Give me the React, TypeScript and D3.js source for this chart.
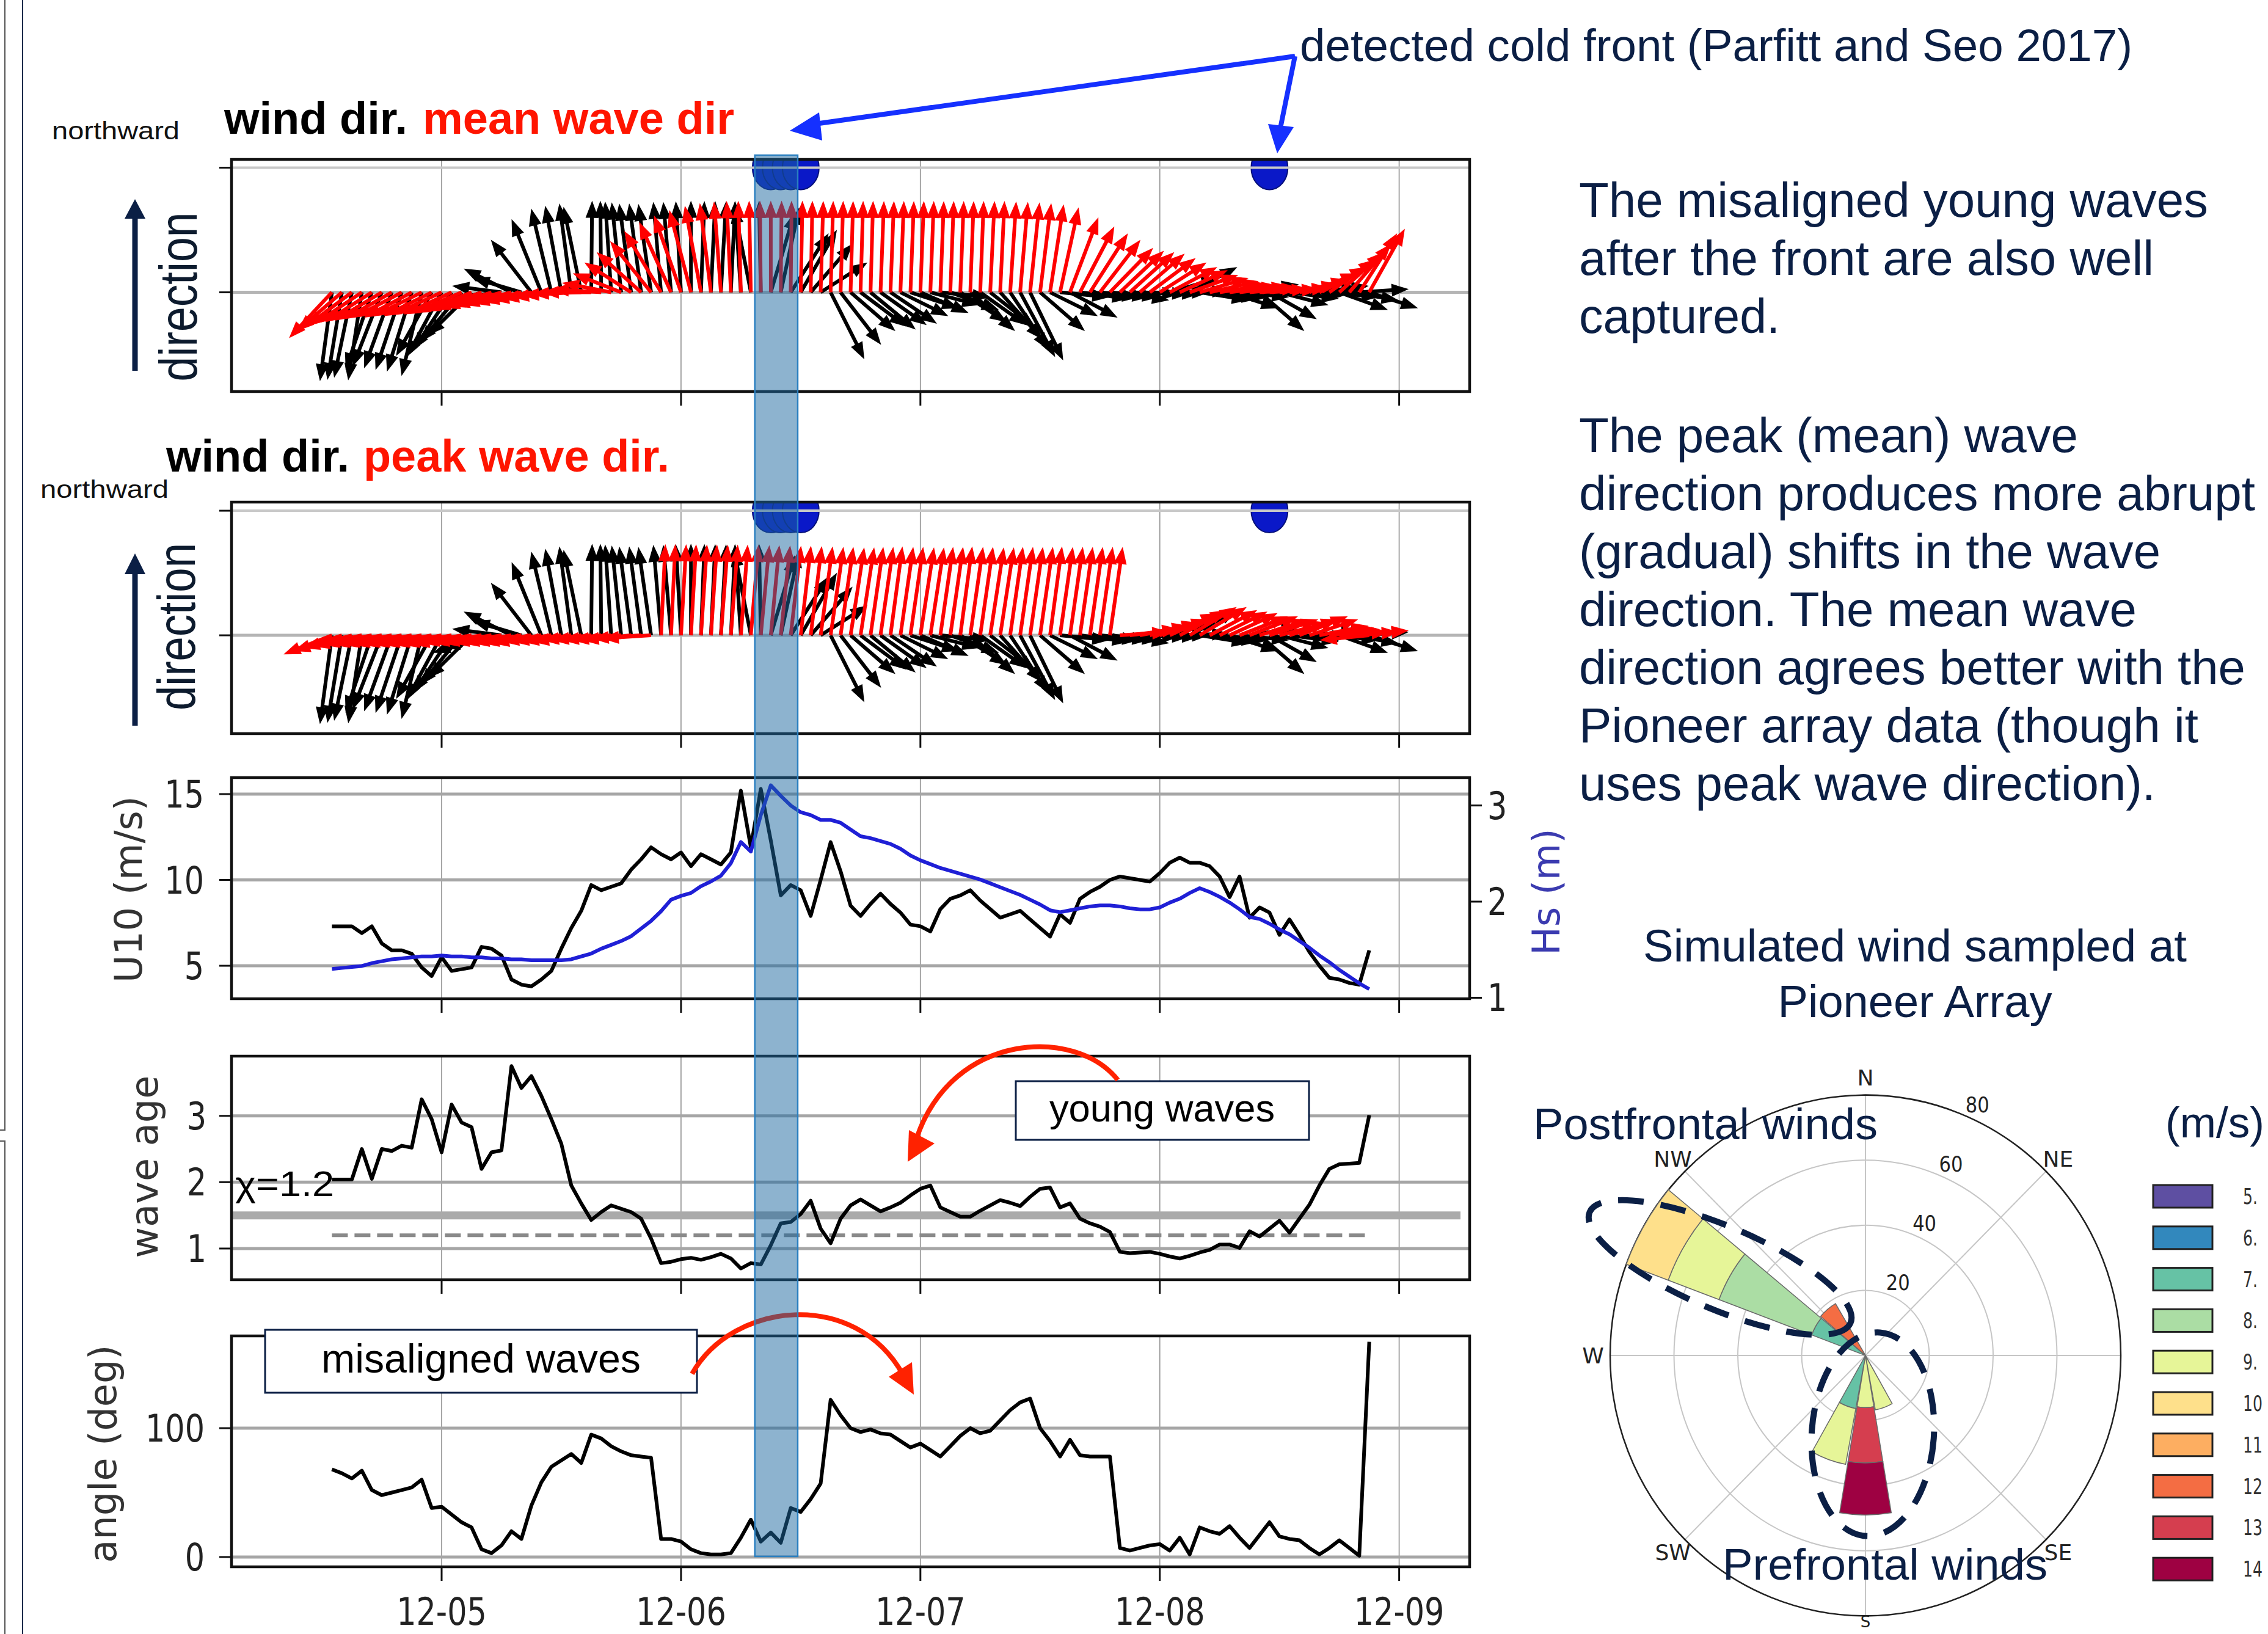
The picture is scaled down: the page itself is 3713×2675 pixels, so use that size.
import React from "react";
import * as d3 from "d3";

const W = 3713;
const H = 2675;

// Hourly samples starting 2017-12-04 13:00 UTC
const startTime = Date.UTC(2017, 11, 4, 13);

const windSpeed = [
  7.3, 7.3, 7.3, 6.9, 7.3, 6.3, 5.9, 5.9, 5.7, 4.9, 4.4,
  5.5, 4.7, 4.8, 4.9, 6.1, 6.0, 5.6, 4.2, 3.9, 3.8,
  4.2, 4.7, 6.0, 7.2, 8.2, 9.7, 9.4, 9.6, 9.8, 10.6,
  11.2, 11.9, 11.5, 11.2, 11.6, 10.8, 11.5, 11.2, 10.9, 11.6,
  15.2, 11.9, 15.3, 12.3, 9.1, 9.7, 9.4, 7.9, 10.0, 12.2,
  10.5, 8.5, 7.9, 8.6, 9.2, 8.6, 8.1, 7.4, 7.3, 7.0,
  8.3, 8.9, 9.1, 9.4, 8.8, 8.3, 7.8, 8.0, 8.2, 7.7,
  7.2, 6.7, 8.0, 7.5, 8.9, 9.3, 9.6, 10.0, 10.2, 10.1,
  10.0, 9.9, 10.4, 11.0, 11.3, 11.0, 11.0, 10.8, 10.2, 9.0,
  10.2, 7.8, 8.4, 8.1, 6.8, 7.7, 6.8, 5.8, 5.0, 4.3,
  4.2, 4.0, 3.9, 5.9,
];

const waveHeight = [
  1.30, 1.31, 1.32, 1.33, 1.36, 1.38, 1.40, 1.41, 1.42, 1.43, 1.43,
  1.44, 1.43, 1.43, 1.42, 1.42, 1.41, 1.41, 1.40, 1.40, 1.39,
  1.39, 1.39, 1.39, 1.40, 1.43, 1.46, 1.51, 1.55, 1.59, 1.64,
  1.72, 1.80, 1.90, 2.02, 2.06, 2.09, 2.16, 2.21, 2.27, 2.40,
  2.62, 2.52, 2.90, 3.21, 3.10, 3.00, 2.93, 2.90, 2.85, 2.85,
  2.82, 2.75, 2.68, 2.66, 2.63, 2.60, 2.55, 2.48, 2.43, 2.39,
  2.35, 2.32, 2.29, 2.26, 2.23, 2.19, 2.15, 2.11, 2.07, 2.02,
  1.97, 1.91, 1.89, 1.91, 1.93, 1.95, 1.96, 1.96, 1.95, 1.93,
  1.92, 1.92, 1.94, 1.99, 2.03, 2.09, 2.14, 2.10, 2.05, 1.99,
  1.92, 1.84, 1.82, 1.77, 1.71, 1.66, 1.59, 1.52, 1.44, 1.37,
  1.29, 1.22, 1.15, 1.09,
];

const waveAge = [
  2.04, 2.04, 2.04, 2.50, 2.05, 2.50, 2.47, 2.55, 2.52, 3.25, 2.95,
  2.45, 3.17, 2.90, 2.83, 2.20, 2.45, 2.48, 3.75, 3.42, 3.60,
  3.30, 2.95, 2.58, 1.95, 1.68, 1.43, 1.55, 1.65, 1.60, 1.55,
  1.45, 1.15, 0.78, 0.80, 0.84, 0.86, 0.83, 0.87, 0.92, 0.85,
  0.70, 0.78, 0.76, 1.05, 1.38, 1.40, 1.52, 1.72, 1.30, 1.08,
  1.45, 1.65, 1.74, 1.65, 1.56, 1.62, 1.69, 1.80, 1.90, 1.95,
  1.62, 1.55, 1.48, 1.48, 1.57, 1.65, 1.73, 1.69, 1.64, 1.78,
  1.90, 1.92, 1.62, 1.68, 1.45, 1.38, 1.33, 1.25, 0.95, 0.93,
  0.94, 0.95, 0.92, 0.88, 0.85, 0.89, 0.94, 0.98, 1.06, 1.06,
  1.01, 1.26, 1.18, 1.30, 1.42, 1.24, 1.45, 1.66, 1.95, 2.20,
  2.27, 2.28, 2.29, 3.01,
];

const misalignAngle = [
  68, 65, 61, 67, 52, 48, 50, 52, 54, 60, 38,
  39, 33, 27, 23, 6, 3, 9, 20, 14, 40,
  58, 70, 75, 80, 73, 95, 92, 86, 82, 79,
  78, 77, 14, 14, 12, 6, 3, 2, 2, 3,
  15, 29, 12, 19, 11, 38, 35, 45, 57, 122,
  110, 100, 97, 99, 96, 95, 90, 85, 88, 83,
  78, 86, 94, 100, 96, 98, 106, 114, 120, 123,
  100, 90, 78, 91, 79, 78, 78, 78, 7, 5,
  7, 9, 10, 5, 15, 2, 23, 20, 18, 24,
  15, 7, 17, 27, 16, 14, 13, 7, 2, 7,
  13, 7, 1, 167,
];

// directions (degrees clockwise from north, direction of travel)
const windDir = [
  194, 197, 201, 196, 212, 216, 214, 212, 210, 204, 226,
  225, 231, 237, 242, 259, 262, 274, 285, 279, 305,
  323, 336, 341, 346, 339, 1, 359, 353, 349, 346,
  346, 345, 351, 351, 354, 0, 4, 5, 6, 5,
  353, 340, 358, 29, 22, 50, 47, 58, 71, 137,
  125, 115, 112, 114, 111, 110, 105, 100, 103, 98,
  93, 101, 109, 115, 111, 113, 121, 129, 135, 138,
  115, 105, 93, 106, 94, 93, 93, 93, 95, 91,
  91, 91, 90, 81, 89, 74, 95, 94, 93, 100,
  93, 85, 115, 107, 98, 94, 91, 87, 86, 93,
  101, 95, 88, 100,
];

const meanWaveDir = [
  240, 245, 248, 250, 251, 252, 253, 254, 254, 255, 255,
  256, 256, 257, 258, 259, 260, 261, 262, 263, 264,
  265, 266, 267, 268, 269, 270, 272, 276, 282, 289,
  296, 304, 312, 320, 327, 334, 341, 347, 352, 355,
  357, 358, 359, 0, 1, 1, 2, 2, 3, 3,
  3, 3, 3, 3, 4, 4, 4, 4, 4, 4,
  4, 4, 4, 4, 4, 5, 5, 7, 9, 11,
  13, 16, 22, 35, 44, 50, 55, 61, 63, 64,
  65, 68, 71, 74, 76, 79, 81, 83, 85, 86,
  86, 87, 88, 88, 87, 85, 82, 78, 74, 69,
  64, 58, 50, 46,
];

const peakWaveDir = [
  258, 260, 262, 263, 264, 264, 264, 264, 264, 264, 264,
  264, 264, 264, 265, 265, 265, 265, 265, 265, 265,
  265, 266, 266, 266, 266, 267, 267, 267, 267, 267,
  268, 268, 5, 5, 6, 6, 7, 7, 8, 8,
  8, 9, 10, 10, 11, 12, 12, 13, 14, 15,
  15, 16, 16, 15, 15, 14, 15, 15, 16, 16,
  15, 15, 14, 15, 15, 16, 16, 15, 15, 15,
  15, 14, 15, 15, 15, 15, 15, 15, 88, 86,
  84, 82, 80, 76, 74, 72, 72, 74, 75, 76,
  78, 78, 80, 80, 82, 80, 78, 80, 84, 86,
  88, 88, 87, 267,
];

const frontDetections = [
  "2017-12-06T09:00Z", "2017-12-06T10:00Z", "2017-12-06T11:00Z",
  "2017-12-06T12:00Z", "2017-12-08T11:00Z",
];
const frontWindow = ["2017-12-06T07:24Z", "2017-12-06T11:42Z"];

// wind rose: sector centres and counts per speed bin
const roseSpeedBins = ["5.", "6.", "7.", "8.", "9.", "10", "11", "12", "13", "14"];
const roseDirections = [160, 180, 200, 300, 320];
const roseCounts = [
  [0, 0, 0, 0, 17, 0, 0, 0, 0, 0],
  [0, 0, 0, 0, 16, 0, 0, 0, 17, 16],
  [0, 0, 16.6, 0, 17.4, 0, 0, 0, 0, 0],
  [0, 0, 18, 31, 17, 14, 0, 0, 0, 0],
  [0, 0, 0, 0, 0, 0, 0, 18.5, 0, 0],
];
const roseRings = [20, 40, 60, 80];
const compassLabels = [
  { name: "N", deg: 0 }, { name: "NE", deg: 45 }, { name: "SE", deg: 135 },
  { name: "S", deg: 180 }, { name: "SW", deg: 225 }, { name: "W", deg: 270 },
  { name: "NW", deg: 315 },
];

const PPT = "'Liberation Sans', Arial, Helvetica, sans-serif";
const MPL = "'DejaVu Sans', sans-serif";
const NAVY = "#0b1f45";
const ARROW_LEN = 0.735;
const ARROW_ASPECT = 0.54;

function arrowD(x0: number, y0: number, deg: number, ly: number, lx: number) {
  const r = (deg * Math.PI) / 180;
  const dx = lx * Math.sin(r);
  const dy = -ly * Math.cos(r);
  const len = Math.hypot(dx, dy);
  const ux = dx / len, uy = dy / len;
  const px = -uy, py = ux;
  const sw = 3.0, hw = 10.5;
  const hl = Math.min(28, len * 0.5);
  const bx = x0 + ux * (len - hl), by = y0 + uy * (len - hl);
  const pts = [
    [x0 + px * sw, y0 + py * sw],
    [bx + px * sw, by + py * sw],
    [bx + px * hw, by + py * hw],
    [x0 + dx, y0 + dy],
    [bx - px * hw, by - py * hw],
    [bx - px * sw, by - py * sw],
    [x0 - px * sw, y0 - py * sw],
  ];
  return "M" + pts.map((p) => p[0].toFixed(1) + "," + p[1].toFixed(1)).join("L") + "Z";
}

function PptText(props: any) {
  const { x, y, w, size, fill = NAVY, weight = 400, anchor = "start", children } = props;
  return (
    <text x={x} y={y} fontFamily={PPT} fontSize={size} fill={fill} fontWeight={weight}
      textAnchor={anchor} textLength={w} lengthAdjust="spacingAndGlyphs">{children}</text>
  );
}

function MplText(props: any) {
  const { x, y, size = 62, anchor = "middle", fill = "#222", sx = 0.82, children } = props;
  return (
    <text transform={`translate(${x},${y}) scale(${sx},1)`} fontFamily={MPL} fontSize={size}
      fill={fill} textAnchor={anchor}>{children}</text>
  );
}

function VLabel(props: any) {
  const { x, y, size = 62, fill = "#333", children } = props;
  return (
    <text transform={`translate(${x},${y}) rotate(-90)`} fontFamily={MPL} fontSize={size}
      fill={fill} textAnchor="middle">{children}</text>
  );
}

export default function App() {
  const times = windSpeed.map((_, i) => new Date(startTime + i * 3600000));
  const x = d3.scaleUtc()
    .domain([new Date(Date.UTC(2017, 11, 4, 2, 56)), new Date(Date.UTC(2017, 11, 9, 7, 4))])
    .range([379, 2406]);
  const [X0, X1] = x.range();
  const days = d3.utcDay.range(new Date(Date.UTC(2017, 11, 5)), new Date(Date.UTC(2017, 11, 9, 1)));
  const fmt = d3.utcFormat("%m-%d");

  const p1 = { top: 261, bottom: 641 };
  const p2 = { top: 822, bottom: 1201 };
  const p3 = { top: 1273, bottom: 1635 };
  const p4 = { top: 1729, bottom: 2095 };
  const p5 = { top: 2187, bottom: 2565 };

  const y1 = d3.scaleLinear().domain([-0.796, 1.066]).range([p1.bottom, p1.top]);
  const y2 = d3.scaleLinear().domain([-0.789, 1.069]).range([p2.bottom, p2.top]);
  const y3 = d3.scaleLinear().domain([3.08, 15.96]).range([p3.bottom, p3.top]);
  const y3r = d3.scaleLinear().domain([0.99, 3.29]).range([p3.bottom, p3.top]);
  const y4 = d3.scaleLinear().domain([0.53, 3.9]).range([p4.bottom, p4.top]);
  const y5 = d3.scaleLinear().domain([-7.6, 171.6]).range([p5.bottom, p5.top]);

  const grid = (p: any, y: any, ticks: number[], hColor = "#a6a6a6") => (
    <g>
      {days.map((d, i) => (
        <line key={"v" + i} x1={x(d)} x2={x(d)} y1={p.top} y2={p.bottom} stroke="#9c9c9c" strokeWidth={1.8} />
      ))}
      {ticks.map((v, i) => (
        <line key={"h" + i} x1={X0} x2={X1} y1={y(v)} y2={y(v)} stroke={hColor} strokeWidth={5} />
      ))}
    </g>
  );

  const frame = (p: any, y: any, ticks: number[]) => (
    <g>
      <rect x={X0} y={p.top} width={X1 - X0} height={p.bottom - p.top} fill="none" stroke="#111" strokeWidth={4.5} />
      {ticks.map((v, i) => (
        <line key={"t" + i} x1={X0 - 20} x2={X0} y1={y(v)} y2={y(v)} stroke="#111" strokeWidth={3} />
      ))}
      {days.map((d, i) => (
        <line key={"b" + i} x1={x(d)} x2={x(d)} y1={p.bottom} y2={p.bottom + 23} stroke="#111" strokeWidth={3} />
      ))}
    </g>
  );

  const quiver = (y: any, dirs: number[], color: string) => {
    const ly = y(0) - y(ARROW_LEN);
    const lx = ly * ARROW_ASPECT;
    return (
      <g fill={color}>
        {dirs.map((d, i) => (
          <path key={i} d={arrowD(x(times[i]), y(0), d, ly, lx)} />
        ))}
      </g>
    );
  };

  const fronts = (y: any) => (
    <g>
      {frontDetections.map((s, i) => (
        <ellipse key={i} cx={x(new Date(s))} cy={y(1)} rx={30} ry={36} fill="#0a18c8" stroke="#06107a" strokeWidth={2} />
      ))}
    </g>
  );

  const line = (y: any, vals: number[]) =>
    d3.line<number>().x((_, i) => x(times[i])).y((v) => y(v))(vals) || "";

  // wind rose geometry
  const rcx = 3054, rcy = 2219, ryStretch = 1.02;
  const rr = d3.scaleLinear().domain([0, 80]).range([0, 418]);
  const roseColors = d3.schemeSpectral[10].slice().reverse();
  const arcGen = d3.arc<any>();
  const wedges: any[] = [];
  roseDirections.forEach((dir, k) => {
    let acc = 0;
    roseCounts[k].forEach((c, b) => {
      if (c <= 0) return;
      wedges.push({
        d: arcGen({
          innerRadius: rr(acc), outerRadius: rr(acc + c),
          startAngle: ((dir - 9.5) * Math.PI) / 180, endAngle: ((dir + 9.5) * Math.PI) / 180,
        }),
        fill: roseColors[b],
      });
      acc += c;
    });
  });

  const bandX0 = x(new Date(frontWindow[0]));
  const bandX1 = x(new Date(frontWindow[1]));

  return (
    <svg width={W} height={H} viewBox={`0 0 ${W} ${H}`} xmlns="http://www.w3.org/2000/svg"
      style={{ position: "absolute", left: 0, top: 0, display: "block", background: "#fff" }}>
      <defs>
        <clipPath id="clipP1"><rect x={X0} y={p1.top} width={X1 - X0} height={p1.bottom - p1.top} /></clipPath>
        <clipPath id="clipP2"><rect x={X0} y={p2.top} width={X1 - X0} height={p2.bottom - p2.top} /></clipPath>
      </defs>
      <rect x={0} y={0} width={W} height={H} fill="#fff" />

      {/* slide frame lines on the left */}
      <line x1={37} x2={37} y1={0} y2={H} stroke="#1b2b4b" strokeWidth={2} />
      <path d="M8,0 L8,1850 L0,1850" fill="none" stroke="#555" strokeWidth={2} />
      <path d="M0,1868 L8,1868 L8,2675" fill="none" stroke="#555" strokeWidth={2} />

      {/* ===== panel 1: wind vs mean wave direction ===== */}
      <text x={85} y={228} fontFamily={PPT} fontSize={40} fill="#111" textLength={209} lengthAdjust="spacingAndGlyphs">northward</text>
      <PptText x={367} y={219} w={300} size={74} fill="#000" weight={700}>wind dir.</PptText>
      <PptText x={692} y={219} w={510} size={74} fill="#ff1500" weight={700}>mean wave dir</PptText>
      <line x1={221} x2={221} y1={607} y2={350} stroke={NAVY} strokeWidth={9} />
      <polygon points="204,358 221,326 238,358" fill={NAVY} />
      <text transform="translate(322,486) rotate(-90)" fontFamily={PPT} fontSize={88} fill="#0d1b2e"
        textAnchor="middle" textLength={277} lengthAdjust="spacingAndGlyphs">direction</text>
      {grid(p1, y1, [0], "#b5b5b5")}
      <g clipPath="url(#clipP1)">
        {fronts(y1)}
        <line x1={X0} x2={X1} y1={y1(1)} y2={y1(1)} stroke="#c8c8c8" strokeWidth={4} />
        {quiver(y1, windDir, "#000")}
        {quiver(y1, meanWaveDir, "#ff0000")}
      </g>
      {frame(p1, y1, [0, 1])}

      {/* ===== panel 2: wind vs peak wave direction ===== */}
      <PptText x={272} y={772} w={300} size={74} fill="#000" weight={700}>wind dir.</PptText>
      <PptText x={595} y={772} w={501} size={74} fill="#ff1500" weight={700}>peak wave dir.</PptText>
      <text x={66} y={815} fontFamily={PPT} fontSize={40} fill="#111" textLength={210} lengthAdjust="spacingAndGlyphs">northward</text>
      <line x1={221} x2={221} y1={1188} y2={935} stroke={NAVY} strokeWidth={9} />
      <polygon points="204,940 221,906 238,940" fill={NAVY} />
      <text transform="translate(319,1026) rotate(-90)" fontFamily={PPT} fontSize={88} fill="#0d1b2e"
        textAnchor="middle" textLength={274} lengthAdjust="spacingAndGlyphs">direction</text>
      {grid(p2, y2, [0], "#b5b5b5")}
      <g clipPath="url(#clipP2)">
        {fronts(y2)}
        <line x1={X0} x2={X1} y1={y2(1)} y2={y2(1)} stroke="#c8c8c8" strokeWidth={4} />
        {quiver(y2, windDir, "#000")}
        {quiver(y2, peakWaveDir, "#ff0000")}
      </g>
      {frame(p2, y2, [0, 1])}

      {/* ===== panel 3: wind speed and Hs ===== */}
      {grid(p3, y3, [5, 10, 15])}
      <path d={line(y3, windSpeed)} fill="none" stroke="#000" strokeWidth={6} strokeLinejoin="round" />
      <path d={line(y3r, waveHeight)} fill="none" stroke="#1f1fd6" strokeWidth={6} strokeLinejoin="round" />
      {frame(p3, y3, [5, 10, 15])}
      {[5, 10, 15].map((v) => (
        <MplText key={v} x={334} y={y3(v) + 22} anchor="end">{v}</MplText>
      ))}
      {[1, 2, 3].map((v) => (
        <g key={v}>
          <line x1={X1} x2={X1 + 20} y1={y3r(v)} y2={y3r(v)} stroke="#111" strokeWidth={3} />
          <MplText x={2435} y={y3r(v) + 22} anchor="start">{v}</MplText>
        </g>
      ))}
      <VLabel x={232} y={1456}>U10 (m/s)</VLabel>
      <VLabel x={2553} y={1460} fill="#3b3bb0">Hs (m)</VLabel>

      {/* ===== panel 4: wave age ===== */}
      {grid(p4, y4, [1, 2, 3])}
      <line x1={X0} x2={X1 - 15} y1={y4(1.5)} y2={y4(1.5)} stroke="#aaaaaa" strokeWidth={13} />
      <line x1={x(times[0])} x2={x(times[times.length - 1])} y1={y4(1.2)} y2={y4(1.2)}
        stroke="#8a8a8a" strokeWidth={6} strokeDasharray="26 11" />
      <path d={line(y4, waveAge)} fill="none" stroke="#000" strokeWidth={6} strokeLinejoin="round" />
      {frame(p4, y4, [1, 2, 3])}
      {[1, 2, 3].map((v) => (
        <MplText key={v} x={338} y={y4(v) + 22} anchor="end">{v}</MplText>
      ))}
      <VLabel x={258} y={1910}>wave age</VLabel>
      <text x={385} y={1958} fontFamily={PPT} fontSize={58} fill="#000" textLength={162} lengthAdjust="spacingAndGlyphs">χ=1.2</text>

      {/* ===== panel 5: misalignment angle ===== */}
      {grid(p5, y5, [0, 100])}
      <path d={line(y5, misalignAngle)} fill="none" stroke="#000" strokeWidth={6} strokeLinejoin="round" />
      {frame(p5, y5, [0, 100])}
      {[0, 100].map((v) => (
        <MplText key={v} x={335} y={y5(v) + 22} anchor="end">{v}</MplText>
      ))}
      {days.map((d, i) => (
        <MplText key={i} x={x(d)} y={2660}>{fmt(d)}</MplText>
      ))}
      <VLabel x={190} y={2380}>angle (deg)</VLabel>

      {/* annotation boxes */}
      <rect x={1663} y={1770} width={480} height={96} fill="#fff" stroke={NAVY} strokeWidth={3} />
      <PptText x={1718} y={1836} w={369} size={63} fill="#000">young waves</PptText>
      <path d="M1830,1768 C1760,1680 1560,1690 1501,1862" fill="none" stroke="#ff2200" strokeWidth={8} />
      <polygon points="1488,1850 1530,1872 1486,1902" fill="#ff2200" />

      <rect x={434} y={2177} width={707} height={103} fill="#fff" stroke={NAVY} strokeWidth={3} />
      <PptText x={526} y={2247} w={523} size={66} fill="#000">misaligned waves</PptText>
      <path d="M1133,2249 C1200,2130 1400,2110 1478,2250" fill="none" stroke="#ff2200" strokeWidth={8} />
      <polygon points="1455,2254 1496,2283 1493,2230" fill="#ff2200" />

      {/* front window band */}
      <rect x={bandX0} y={254} width={bandX1 - bandX0} height={2548 - 254}
        fill="rgba(27,103,159,0.5)" stroke="#2a7fc0" strokeWidth={2.5} />

      {/* front label and pointers */}
      <PptText x={2128} y={100} w={1363} size={75}>detected cold front (Parfitt and Seo 2017)</PptText>
      <path d="M2120,92 L1320,205 M2120,92 L2095,215" fill="none" stroke="#1530ff" strokeWidth={8} strokeLinejoin="round" />
      <polygon points="1341,184 1293,214 1346,230" fill="#1530ff" />
      <polygon points="2076,203 2091,251 2118,208" fill="#1530ff" />

      {/* right-hand notes */}
      <PptText x={2585} y={355} w={1030} size={80}>The misaligned young waves</PptText>
      <PptText x={2585} y={450} w={941} size={80}>after the front are also well</PptText>
      <PptText x={2585} y={545} w={329} size={80}>captured.</PptText>
      <PptText x={2585} y={740} w={817} size={80}>The peak (mean) wave</PptText>
      <PptText x={2585} y={835} w={1107} size={80}>direction produces more abrupt</PptText>
      <PptText x={2585} y={930} w={952} size={80}>(gradual) shifts in the wave</PptText>
      <PptText x={2585} y={1025} w={913} size={80}>direction. The mean wave</PptText>
      <PptText x={2585} y={1120} w={1091} size={80}>direction agrees better with the</PptText>
      <PptText x={2585} y={1215} w={1014} size={80}>Pioneer array data (though it</PptText>
      <PptText x={2585} y={1310} w={944} size={80}>uses peak wave direction).</PptText>
      <PptText x={3135} y={1574} w={890} size={75} anchor="middle">Simulated wind sampled at</PptText>
      <PptText x={3135} y={1665} w={449} size={75} anchor="middle">Pioneer Array</PptText>

      {/* ===== wind rose ===== */}
      <g transform={`translate(${rcx},${rcy}) scale(1,${ryStretch})`}>
        {roseRings.slice(0, -1).map((v) => (
          <circle key={v} r={rr(v)} fill="none" stroke="#c6c6c6" strokeWidth={2} />
        ))}
        {d3.range(0, 360, 45).map((a) => (
          <line key={a} x1={0} y1={0} x2={rr(80) * Math.sin((a * Math.PI) / 180)}
            y2={-rr(80) * Math.cos((a * Math.PI) / 180)} stroke="#c6c6c6" strokeWidth={2} />
        ))}
        <circle r={rr(80)} fill="none" stroke="#222" strokeWidth={2.5} />
        {wedges.map((w, i) => (
          <path key={i} d={w.d} fill={w.fill} stroke="#6a6a6a" strokeWidth={1.5} />
        ))}
      </g>
      {compassLabels.map((c) => {
        const a = (c.deg * Math.PI) / 180;
        const isS = c.name === "S";
        const yy = isS ? 2664 : rcy - 446 * Math.cos(a) * ryStretch + 13;
        return (
          <text key={c.name} x={rcx + 446 * Math.sin(a)} y={yy}
            fontFamily={MPL} fontSize={isS ? 26 : 36} fill="#222" textAnchor="middle">{c.name}</text>
        );
      })}
      {roseRings.map((v) => {
        const a = (24.5 * Math.PI) / 180;
        const r = rr(v) + 24;
        return (
          <text key={v} transform={`translate(${rcx + r * Math.sin(a)},${rcy - r * Math.cos(a) * ryStretch + 12}) scale(0.85,1)`}
            fontFamily={MPL} fontSize={36} fill="#222" textAnchor="middle">{v}</text>
        );
      })}
      <ellipse cx={2816} cy={2075} rx={232} ry={68} transform="rotate(23 2816 2075)" fill="none"
        stroke={NAVY} strokeWidth={10} strokeDasharray="42 28" />
      <ellipse cx={3066} cy={2348} rx={100} ry={167} transform="rotate(4 3066 2348)" fill="none"
        stroke={NAVY} strokeWidth={10} strokeDasharray="42 28" />
      <PptText x={2510} y={1865} w={564} size={72}>Postfrontal winds</PptText>
      <PptText x={2820} y={2586} w={532} size={72}>Prefrontal winds</PptText>

      {/* speed legend */}
      <PptText x={3545} y={1862} w={162} size={70}>(m/s)</PptText>
      {roseSpeedBins.map((b, i) => {
        const cy = 1958 + i * 67.8;
        return (
          <g key={b}>
            <rect x={3525} y={cy - 18} width={97} height={37} fill={roseColors[i]} stroke="#222" strokeWidth={3} />
            <text transform={`translate(3672,${cy + 13}) scale(0.7,1)`} fontFamily={MPL} fontSize={36}
              fill="#333">{b}</text>
          </g>
        );
      })}
    </svg>
  );
}
